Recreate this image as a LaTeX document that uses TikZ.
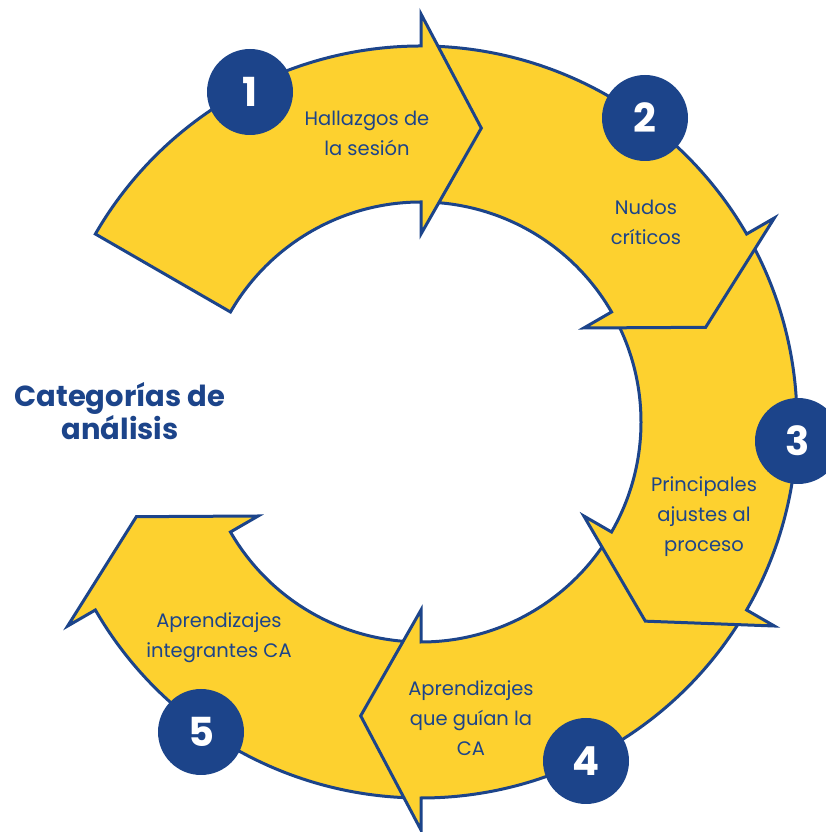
\documentclass[tikz,border=0pt]{standalone}
\usepackage{fontspec}
\setmainfont{Poppins}
\definecolor{ringyellow}{HTML}{FDD12F}
\definecolor{ringblue}{HTML}{1C448A}
\begin{document}
\begin{tikzpicture}[x=1pt,y=1pt,
  seg/.style={fill=ringyellow,draw=ringblue,line width=3pt,line join=miter},
  badge/.style={circle,fill=ringblue,minimum size=86pt,inner sep=0pt,text=white,font=\fontsize{40}{40}\selectfont\bfseries},
  lbl/.style={align=center,text=ringblue,font=\fontsize{19.5}{30}\selectfont},
  ttl/.style={align=center,text=ringblue,font=\fontsize{29}{30}\selectfont\bfseries}]
\useasboundingbox (0,0) rectangle (826,832);
\begin{scope}[shift={(421,410)}]
  \foreach \b/\t in {-150/-92, -90/-32, -30/28, 30/88, 90/150} {
    \draw[seg] (\t:376) arc[start angle=\t,end angle=\b,radius=376]
      -- (\b:408) -- ({\b-11.6}:300) -- (\b:188) -- (\b:220)
      arc[start angle=\b,end angle=\t,radius=220] -- cycle;
  }
\end{scope}
\node[badge] (b1) at (250,740) {1};
\node[badge] (b2) at (645,714) {2};
\node[badge] (b3) at (798,391) {3};
\node[badge] (b4) at (586,71) {4};
\node[badge] (b5) at (201,100) {5};
\node[lbl] (l1) at (367,699) {Hallazgos de\\la sesión};
\node[lbl] (l2) at (646,610) {Nudos\\críticos};
\node[lbl] (l3) at (704,315) {Principales\\ajustes al\\proceso};
\node[lbl] (l4) at (471,114) {Aprendizajes\\que guían la\\CA};
\node[lbl] (l5) at (219,194) {Aprendizajes\\integrantes CA};
\node[ttl] (t) at (120,421) {Categorías de\\análisis};
\end{tikzpicture}
\end{document}
